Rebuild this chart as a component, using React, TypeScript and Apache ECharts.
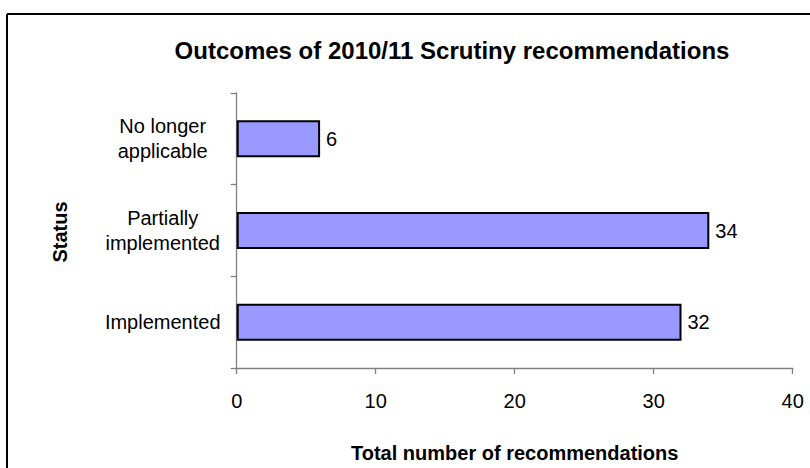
import React, { useEffect, useRef } from "react";
import * as echarts from "echarts";

const categories = ["Implemented", "Partially\nimplemented", "No longer\napplicable"];
const values = [32, 34, 6];
const xTicks = [0, 10, 20, 30, 40];
const titleText = "Outcomes of 2010/11 Scrutiny recommendations";
const xTitle = "Total number of recommendations";
const yTitle = "Status";

const FONT = "'Liberation Sans', Arial, sans-serif";

export default function App() {
  const ref = useRef<HTMLDivElement>(null);
  useEffect(() => {
    if (!ref.current) return;
    const chart = echarts.init(ref.current, null, { renderer: "svg" });
    chart.setOption({
      animation: false,
      backgroundColor: "#ffffff",
      textStyle: { fontFamily: FONT },
      grid: { left: 236.7, top: 93, right: 17.3, bottom: 97, containLabel: false },
      graphic: [
        {
          type: "line",
          z: -10,
          shape: { x1: 7, y1: 14, x2: 810, y2: 14 },
          style: { stroke: "#000", lineWidth: 2 },
        },
        {
          type: "line",
          z: -10,
          shape: { x1: 7, y1: 14, x2: 7, y2: 468 },
          style: { stroke: "#000", lineWidth: 2 },
        },
        {
          type: "text",
          x: 452,
          y: 50,
          style: {
            text: titleText,
            fontFamily: FONT,
            fontSize: 24,
            fontWeight: "bold",
            fill: "#000",
            textAlign: "center",
            textVerticalAlign: "middle",
          },
        },
        {
          type: "text",
          x: 60,
          y: 232,
          rotation: Math.PI / 2,
          style: {
            text: yTitle,
            fontFamily: FONT,
            fontSize: 20,
            fontWeight: "bold",
            fill: "#000",
            textAlign: "center",
            textVerticalAlign: "middle",
          },
        },
      ],
      xAxis: {
        type: "value",
        min: 0,
        max: 40,
        interval: 10,
        name: xTitle,
        nameLocation: "middle",
        nameGap: 75,
        nameTextStyle: { fontFamily: FONT, fontSize: 20, fontWeight: "bold", color: "#000" },
        axisLine: { show: true, lineStyle: { color: "#808080", width: 1.3 } },
        axisTick: { show: true, length: 6, lineStyle: { color: "#808080", width: 1.3 } },
        axisLabel: {
          color: "#000",
          fontSize: 20,
          fontFamily: FONT,
          margin: 23,
          formatter: (v: number) => (xTicks.includes(v) ? String(v) : ""),
        },
        splitLine: { show: false },
      },
      yAxis: {
        type: "category",
        data: categories,
        axisLine: { show: true, lineStyle: { color: "#808080", width: 1.3 } },
        axisTick: { show: true, length: 6, lineStyle: { color: "#808080", width: 1.3 } },
        axisLabel: {
          color: "#000",
          fontSize: 20,
          fontFamily: FONT,
          align: "center",
          margin: 74,
          lineHeight: 25,
        },
        splitLine: { show: false },
      },
      series: [
        {
          type: "bar",
          data: values,
          barWidth: 37,
          itemStyle: { color: "#9999FF", borderColor: "#000", borderWidth: 2 },
          label: {
            show: true,
            position: "right",
            distance: 6,
            color: "#000",
            fontSize: 20,
            fontFamily: FONT,
          },
        },
      ],
    });
    return () => chart.dispose();
  }, []);
  return (
    <div
      ref={ref}
      style={{ position: "absolute", left: 0, top: 0, width: 810, height: 468 }}
    />
  );
}
